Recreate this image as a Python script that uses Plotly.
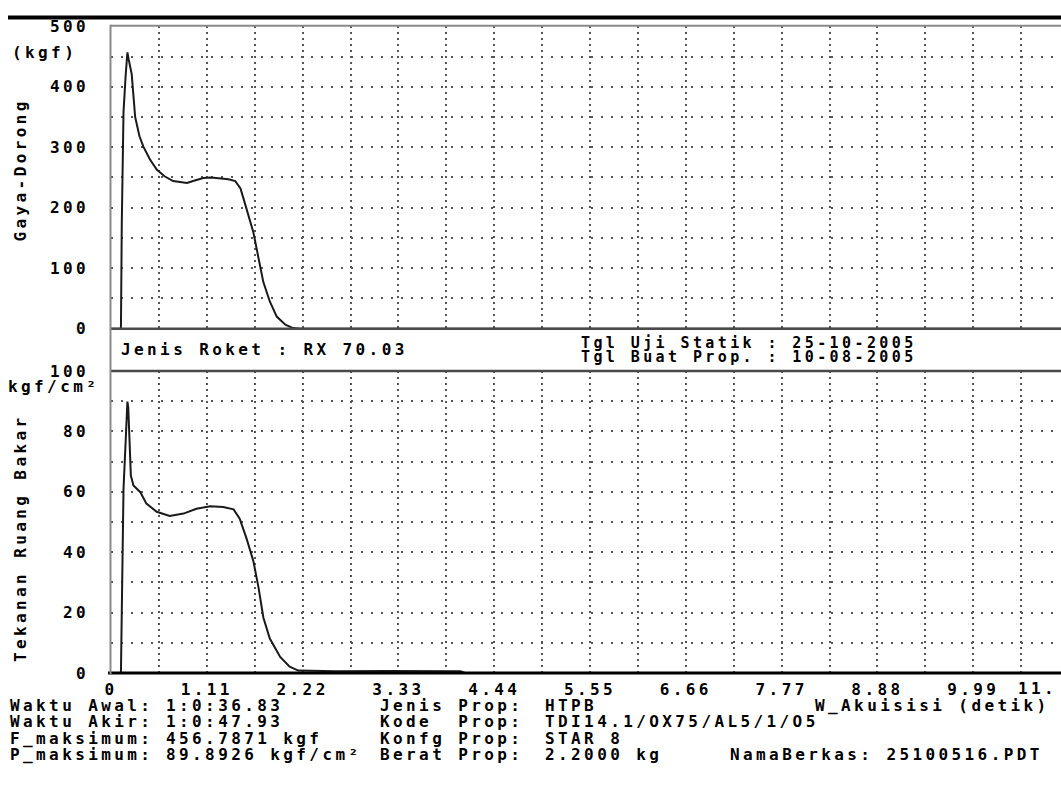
import plotly.graph_objects as go

# ---------------- data ----------------
thrust_time = [0, 0.115, 0.125, 0.145, 0.17, 0.19, 0.205, 0.24, 0.28, 0.33, 0.375, 0.45,
               0.53, 0.62, 0.72, 0.80, 0.88, 0.97, 1.07, 1.16, 1.26, 1.36, 1.44, 1.50,
               1.55, 1.60, 1.65, 1.71, 1.765, 1.84, 1.92, 2.02, 2.11, 2.20, 11.1]
thrust_kgf = [0, 0, 175, 358, 419, 456.8, 445, 421, 350, 318, 301, 280,
              263, 252, 244, 242, 241, 245, 249, 250, 249, 247, 244, 232,
              208, 185, 159, 116, 77, 45, 20, 6.5, 1, 0, 0]

pressure_time = [0, 0.115, 0.125, 0.145, 0.175, 0.19, 0.20, 0.21, 0.23, 0.26, 0.34, 0.41,
                 0.53, 0.68, 0.84, 0.99, 1.15, 1.30, 1.42, 1.49, 1.57, 1.65, 1.71, 1.765,
                 1.84, 1.96, 2.07, 2.17, 2.6, 3.2, 3.8, 4.05, 4.1, 11.1]
pressure_kgfcm2 = [0, 0, 20.6, 61, 80, 89.9, 88, 78.5, 65.4, 62.1, 59.9, 56.1,
                   53.4, 52, 52.8, 54.4, 55.2, 55, 54.2, 51.2, 44.6, 37, 28.2, 18.4,
                   11.4, 5.3, 2.1, 0.8, 0.6, 0.7, 0.5, 0.6, 0, 0]

x_tick_values = [0, 1.11, 2.22, 3.33, 4.44, 5.55, 6.66, 7.77, 8.88, 9.99]
x_tick_labels = ["0", "1.11", "2.22", "3.33", "4.44", "5.55", "6.66", "7.77", "8.88", "9.99"]
thrust_ticks = [0, 100, 200, 300, 400, 500]
pressure_ticks = [0, 20, 40, 60, 80, 100]

header_left = "Jenis Roket : RX 70.03"
header_right = ["Tgl Uji Statik : 25-10-2005", "Tgl Buat Prop. : 10-08-2005"]
info_labels = ["Waktu Awal:", "Waktu Akir:", "F_maksimum:", "P_maksimum:"]
info_values = ["1:0:36.83", "1:0:47.93", "456.7871 kgf", "89.8926 kgf/cm²"]
prop_labels = ["Jenis Prop:", "Kode  Prop:", "Konfg Prop:", "Berat Prop:"]
prop_values = ["HTPB", "TDI14.1/OX75/AL5/1/O5", "STAR 8", "2.2000 kg"]

# ---------------- geometry ----------------
W, H = 1061, 789
L, B = 111, 116
PW, PH = W - L, H - B
PX_PER_S = 86.31
x_max = PW / PX_PER_S


def fx(px):
    return (px - L) / PW


def fy(py):
    return (PH - py) / PH


FAM = "DejaVu Sans Mono"


def font(size=16):
    return dict(family=FAM, size=size, color="black", weight="bold")


fig = go.Figure()
line_style = dict(color="#1a1a1a", width=2)
fig.add_trace(go.Scatter(x=thrust_time, y=thrust_kgf, mode="lines", line=line_style,
                         xaxis="x", yaxis="y", hoverinfo="skip"))
fig.add_trace(go.Scatter(x=pressure_time, y=pressure_kgfcm2, mode="lines", line=line_style,
                         xaxis="x2", yaxis="y2", hoverinfo="skip"))

GRID = "#555555"
xgrid = dict(showgrid=True, gridcolor=GRID, gridwidth=2, griddash="2px,4px",
             minor=dict(dtick=0.555, tick0=0, showgrid=True, gridcolor=GRID,
                        gridwidth=2, griddash="2px,4px"))


def xaxis(show_labels, anchor):
    d = dict(range=[0, x_max], tickmode="array", tickvals=x_tick_values,
             ticktext=x_tick_labels, showticklabels=show_labels, ticks="",
             zeroline=False, showline=False, anchor=anchor, domain=[0, 1],
             tickfont=font(16), ticklabelstandoff=5, fixedrange=True)
    d.update(xgrid)
    return d


def yaxis(ticks, rng, minor_dtick, domain, anchor):
    return dict(range=rng, tickmode="array", tickvals=ticks,
                ticktext=[str(t) for t in ticks], ticks="", zeroline=False,
                showline=False, domain=domain, anchor=anchor,
                tickfont=font(16), ticklabelstandoff=21,
                showgrid=True, gridcolor=GRID, gridwidth=2, griddash="2px,8px",
                minor=dict(dtick=minor_dtick, tick0=0, showgrid=True, gridcolor=GRID,
                           gridwidth=2, griddash="2px,8px"),
                fixedrange=True)


top_y0, top_y1 = 324, 17.5
bot_y0, bot_y1 = 673, 367

fig.update_layout(
    width=W, height=H,
    margin=dict(l=L, r=0, t=0, b=B, pad=0),
    paper_bgcolor="white", plot_bgcolor="white",
    showlegend=False,
    xaxis=xaxis(False, "y"),
    xaxis2=xaxis(True, "y2"),
    yaxis=yaxis(thrust_ticks, [0, 500], 50, [fy(top_y0), fy(top_y1)], "x"),
    yaxis2=yaxis(pressure_ticks, [0, 100], 10, [fy(bot_y0), fy(bot_y1)], "x2"),
)
fig.layout.xaxis2.matches = "x"

# frame lines
shapes = []


def hline(py, x0px, x1px, color, width):
    shapes.append(dict(type="line", xref="paper", yref="paper", x0=fx(x0px), x1=fx(x1px),
                       y0=fy(py), y1=fy(py), line=dict(color=color, width=width)))


hline(8.5, 8, 1061, "black", 4)
hline(17, 110, 1061, "#8a8a8a", 2)
hline(324, 110, 1061, "#4a4a4a", 2.5)
hline(367, 110, 1061, "#4a4a4a", 2.5)
hline(673, 108, 1061, "black", 3)
shapes.append(dict(type="line", xref="paper", yref="paper", x0=fx(110.5), x1=fx(110.5),
                   y0=fy(16), y1=fy(674), line=dict(color="#8a8a8a", width=2)))
fig.update_layout(shapes=shapes)

ann = []


def txt(s, px, py, size=16, anchor="left", angle=0):
    ann.append(dict(text=s, xref="paper", yref="paper", x=fx(px), y=fy(py),
                    xanchor=anchor, yanchor="middle", align=anchor, showarrow=False,
                    font=font(size), textangle=angle, borderpad=0))


txt("(kgf)", 11, 44)
txt("Gaya-Dorong", 21, 163, anchor="center", angle=-90)
txt("kgf/cm²", 7, 383)
txt("Tekanan Ruang Bakar", 21, 537, anchor="center", angle=-90)
txt(header_left, 120, 345)
txt(header_right[0], 580, 338.5, size=15)
txt(header_right[1], 580, 353, size=15)
rows_y = [706, 722.5, 739, 756]
for i, yv in enumerate(rows_y):
    txt(info_labels[i], 9, yv)
    txt(info_values[i], 165, yv)
    txt(prop_labels[i], 379, yv)
    txt(prop_values[i], 544, yv)
txt("W_Akuisisi (detik)", 814, rows_y[0])
txt("NamaBerkas: 25100516.PDT", 729, rows_y[3])
txt("11.", 1017, 689)
fig.update_layout(annotations=ann)

post = """
document.documentElement.style.margin = '0';
document.documentElement.style.padding = '0';
document.documentElement.style.overflow = 'hidden';
document.body.style.margin = '0';
document.body.style.padding = '0';
document.body.style.overflow = 'hidden';
var gd = document.getElementById('{plot_id}');
gd.style.position = 'absolute';
gd.style.left = '0px';
gd.style.top = '0px';
gd.querySelectorAll('text').forEach(function(t){ t.style.letterSpacing = '3.4px'; });
"""
fig.write_html("out.html", post_script=post, config={"displayModeBar": False})
